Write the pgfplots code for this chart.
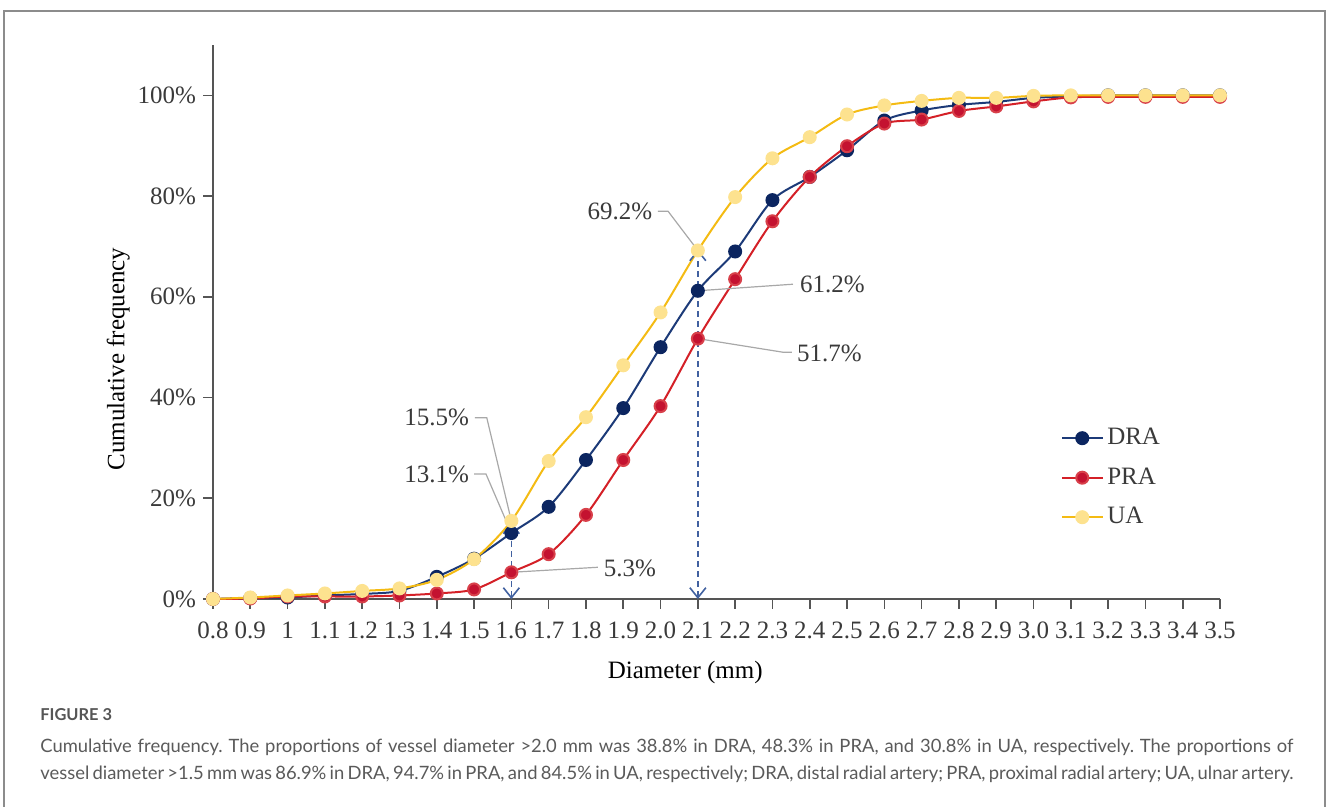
\documentclass[border=0pt]{standalone}
\usepackage{pgfplots}
\pgfplotsset{compat=1.18}
\usepackage{fontspec}
\setmainfont{Liberation Serif}
\newfontfamily\capfont{Lato}
\usetikzlibrary{arrows.meta}
\definecolor{navyL}{HTML}{1C3A78}
\definecolor{navyF}{HTML}{0B2560}
\definecolor{redL}{HTML}{D42027}
\definecolor{redF}{HTML}{C41230}
\definecolor{redE}{HTML}{D8404A}
\definecolor{yelL}{HTML}{F4BB13}
\definecolor{yelF}{HTML}{FDE28F}
\definecolor{arrowblue}{HTML}{4161A0}
\definecolor{leader}{HTML}{A8A8A8}
\definecolor{axisgray}{HTML}{555555}
\definecolor{txtgray}{HTML}{3A3A3A}
\definecolor{framegray}{HTML}{8C8C8C}
\definecolor{capgray}{HTML}{5A5A5A}
\definecolor{capdark}{HTML}{555555}
\begin{document}
\frenchspacing
\begin{tikzpicture}
\useasboundingbox (0,0) rectangle (664pt,403.5pt);
\draw[color=framegray, line width=0.75pt] (2pt,0) -- (2pt,398pt) -- (662.5pt,398pt) -- (662.5pt,0);
\begin{axis}[
  at={(106.5pt,104pt)}, anchor=south west,
  scale only axis, width=503.5pt, height=277pt,
  xmin=0.8, xmax=3.5, ymin=0, ymax=110,
  clip=false,
  axis lines=left,
  axis line style={-, draw=axisgray, line width=0.8pt},
  tick align=outside, major tick length=5pt,
  tick style={draw=axisgray, line width=0.8pt},
  xtick={0.8,0.9,1,1.1,1.2,1.3,1.4,1.5,1.6,1.7,1.8,1.9,2.0,2.1,2.2,2.3,2.4,2.5,2.6,2.7,2.8,2.9,3.0,3.1,3.2,3.3,3.4,3.5},
  xticklabels={0.8,0.9,1,1.1,1.2,1.3,1.4,1.5,1.6,1.7,1.8,1.9,2.0,2.1,2.2,2.3,2.4,2.5,2.6,2.7,2.8,2.9,3.0,3.1,3.2,3.3,3.4,3.5},
  ytick={0,20,40,60,80,100},
  yticklabels={0\%,20\%,40\%,60\%,80\%,100\%},
  /pgf/number format/assume math mode=true,
  ticklabel style={font=\fontsize{12.5}{15}\selectfont, text=txtgray},
  xticklabel style={yshift=-3pt},
  xlabel={Diameter (mm)},
  ylabel={Cumulative frequency},
  label style={font=\fontsize{12.5}{15}\selectfont, text=black},
  xlabel style={at={(axis description cs:0.469,-0.132)}, anchor=center},
  ylabel style={at={(axis description cs:-0.094,0.433)}, anchor=center, rotate=0},
  legend style={draw=none, fill=none, at={(0.836,0.323)}, anchor=north west,
    font=\fontsize{12.5}{14}\selectfont, text=txtgray, row sep=6pt},
  legend cell align=left,
  legend image code/.code={\draw[mark repeat=2,mark phase=2] plot coordinates {(0pt,0pt) (10pt,0pt) (20pt,0pt)};},
]
\addplot[navyL, line width=1pt, smooth, mark=*, mark size=3pt, mark options={fill=navyF, draw=navyF}] coordinates {
(0.8,0) (0.9,0.2) (1.0,0.3) (1.1,0.7) (1.2,1.0) (1.3,1.6) (1.4,4.4) (1.5,8.0) (1.6,13.1) (1.7,18.3) (1.8,27.6) (1.9,37.9) (2.0,50.0) (2.1,61.2) (2.2,69.0) (2.3,79.2) (2.4,83.8) (2.5,89.1) (2.6,95.0) (2.7,97.0) (2.8,98.1) (2.9,98.7) (3.0,99.5) (3.1,99.8) (3.2,100) (3.3,100) (3.4,100) (3.5,100)};
\addlegendentry{DRA}
\addplot[redL, line width=1pt, smooth, mark=*, mark size=3pt, mark options={fill=redF, draw=redE}] coordinates {
(0.8,0) (0.9,0.1) (1.0,0.5) (1.1,0.5) (1.2,0.5) (1.3,0.7) (1.4,1.1) (1.5,1.9) (1.6,5.3) (1.7,8.9) (1.8,16.7) (1.9,27.6) (2.0,38.3) (2.1,51.7) (2.2,63.5) (2.3,75.0) (2.4,83.8) (2.5,89.9) (2.6,94.4) (2.7,95.2) (2.8,96.9) (2.9,97.8) (3.0,98.8) (3.1,99.6) (3.2,99.7) (3.3,99.7) (3.4,99.7) (3.5,99.7)};
\addlegendentry{PRA}
\addplot[yelL, line width=1pt, smooth, mark=*, mark size=3pt, mark options={fill=yelF, draw=yelF}] coordinates {
(0.8,0) (0.9,0.3) (1.0,0.7) (1.1,1.1) (1.2,1.6) (1.3,2.1) (1.4,3.8) (1.5,7.9) (1.6,15.5) (1.7,27.4) (1.8,36.1) (1.9,46.4) (2.0,56.9) (2.1,69.2) (2.2,79.8) (2.3,87.5) (2.4,91.7) (2.5,96.2) (2.6,98.0) (2.7,98.9) (2.8,99.5) (2.9,99.5) (3.0,99.9) (3.1,100) (3.2,100) (3.3,100) (3.4,100) (3.5,100)};
\addlegendentry{UA}
\addplot[arrowblue, line width=0.8pt, dash pattern=on 3pt off 2pt, {Straight Barb[length=5pt,width=8pt]}-{Straight Barb[length=5pt,width=8pt]}, forget plot] coordinates {(1.6,0) (1.6,15.2)};
\addplot[arrowblue, line width=0.8pt, dash pattern=on 3pt off 2pt, {Straight Barb[length=5pt,width=8pt]}-{Straight Barb[length=5pt,width=8pt]}, forget plot] coordinates {(2.1,0) (2.1,69.4)};
% leader lines
\draw[leader, line width=0.6pt] (axis cs:1.993,77.0) -- (axis cs:2.020,77.0) -- (axis cs:2.1,69.2);
\draw[leader, line width=0.6pt] (axis cs:2.1,61.2) -- (axis cs:2.355,62.5);
\draw[leader, line width=0.6pt] (axis cs:2.1,51.7) -- (axis cs:2.328,49.0) -- (axis cs:2.352,49.0);
\draw[leader, line width=0.6pt] (axis cs:1.502,36.0) -- (axis cs:1.534,36.0) -- (axis cs:1.6,15.5);
\draw[leader, line width=0.6pt] (axis cs:1.500,24.8) -- (axis cs:1.532,24.8) -- (axis cs:1.6,13.1);
\draw[leader, line width=0.6pt] (axis cs:1.6,5.3) -- (axis cs:1.832,6.3);
\begin{scope}[every node/.style={font=\fontsize{12.5}{15}\selectfont, text=txtgray, inner sep=0}]
\node[anchor=center] at (axis cs:1.891,77.0) {69.2\%};
\node[anchor=west] at (axis cs:2.373,62.5) {61.2\%};
\node[anchor=west] at (axis cs:2.365,48.8) {51.7\%};
\node[anchor=east] at (axis cs:1.487,36.0) {15.5\%};
\node[anchor=east] at (axis cs:1.487,24.8) {13.1\%};
\node[anchor=west] at (axis cs:1.847,6.1) {5.3\%};
\end{scope}
\end{axis}
\node[anchor=base west, inner sep=0, font=\capfont\bfseries\fontsize{8.2}{9}\selectfont, text=capdark] at (20pt,43pt) {FIGURE 3};
\node[anchor=base west, inner sep=0, font=\capfont\fontsize{9.2}{11}\selectfont, text=capgray] at (20pt,27pt) {\hbox to 626.5pt{Cumulative frequency. The proportions of vessel diameter >2.0 mm was 38.8\% in DRA, 48.3\% in PRA, and 30.8\% in UA, respectively. The proportions of}};
\node[anchor=base west, inner sep=0, font=\capfont\fontsize{9.2}{11}\selectfont, text=capgray] at (20pt,13.5pt) {\hbox to 626.5pt{vessel diameter >1.5 mm was 86.9\% in DRA, 94.7\% in PRA, and 84.5\% in UA, respectively; DRA, distal radial artery; PRA, proximal radial artery; UA, ulnar artery.}};
\end{tikzpicture}
\end{document}
